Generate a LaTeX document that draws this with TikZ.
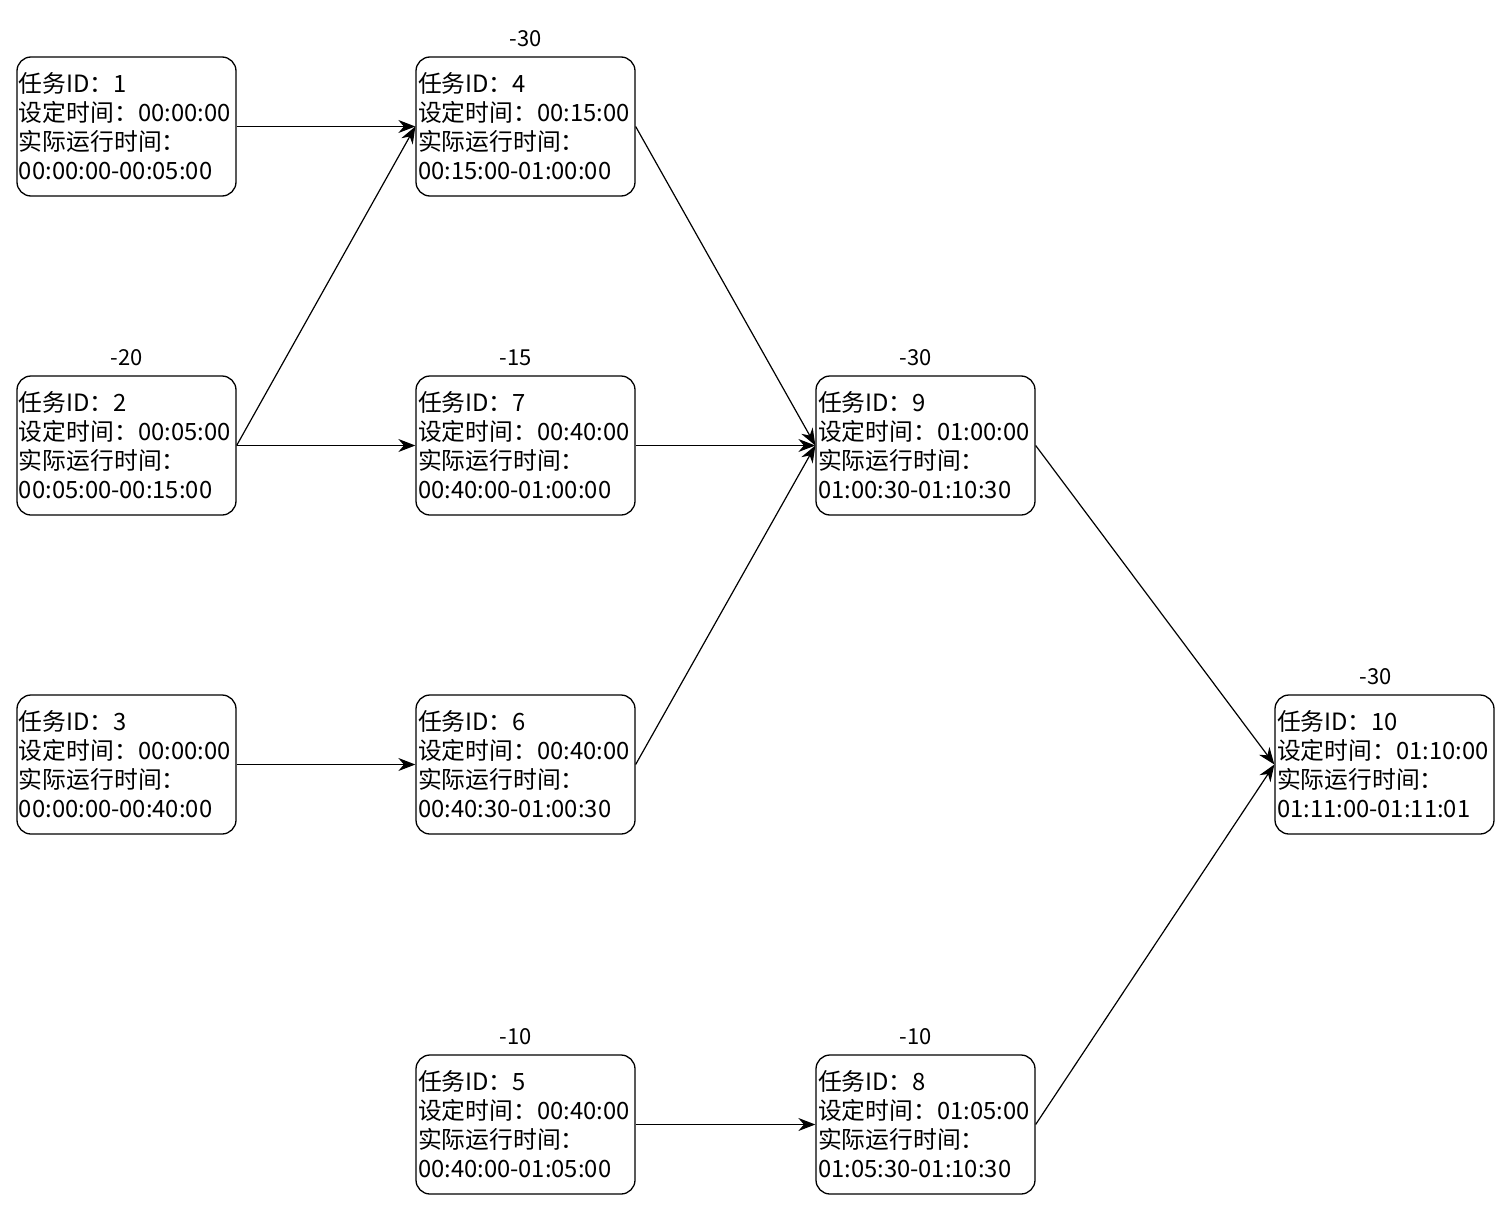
\documentclass[tikz,border=0pt]{standalone}
\usepackage{fontspec}
\setmainfont{Noto Sans CJK SC}
\usetikzlibrary{arrows.meta}
\begin{document}
\begin{tikzpicture}[x=1pt, y=-1pt,
  task/.style={draw, rounded corners=14pt, line width=1.3pt, minimum width=219pt, minimum height=139pt,
    text width=215pt, align=left, inner sep=2pt, font=\fontsize{23.8}{29}\selectfont},
  delay/.style={font=\fontsize{22}{24}\selectfont},
  >={Stealth[length=17pt, width=13pt]}
]
  \useasboundingbox (0,0) rectangle (1512,1212);
  % tasks, placed by centre
  \node[task] (t1) at (126.5,126.5) {任务ID：1\\设定时间：00:00:00\\实际运行时间：\\00:00:00-00:05:00};
  \node[task] (t2) at (126.5,445.5) {任务ID：2\\设定时间：00:05:00\\实际运行时间：\\00:05:00-00:15:00};
  \node[task] (t3) at (126.5,764.5) {任务ID：3\\设定时间：00:00:00\\实际运行时间：\\00:00:00-00:40:00};
  \node[task] (t4) at (525.5,126.5) {任务ID：4\\设定时间：00:15:00\\实际运行时间：\\00:15:00-01:00:00};
  \node[task] (t7) at (525.5,445.5) {任务ID：7\\设定时间：00:40:00\\实际运行时间：\\00:40:00-01:00:00};
  \node[task] (t6) at (525.5,764.5) {任务ID：6\\设定时间：00:40:00\\实际运行时间：\\00:40:30-01:00:30};
  \node[task] (t5) at (525.5,1124.5) {任务ID：5\\设定时间：00:40:00\\实际运行时间：\\00:40:00-01:05:00};
  \node[task] (t9) at (925.5,445.5) {任务ID：9\\设定时间：01:00:00\\实际运行时间：\\01:00:30-01:10:30};
  \node[task] (t8) at (925.5,1124.5) {任务ID：8\\设定时间：01:05:00\\实际运行时间：\\01:05:30-01:10:30};
  \node[task] (t10) at (1384.5,764.5) {任务ID：10\\设定时间：01:10:00\\实际运行时间：\\01:11:00-01:11:01};

  % delays above the boxes
  \node[delay, above=6pt] (d4) at (t4.north) {-30};
  \node[delay, above=6pt] (d2) at (t2.north) {-20};
  \node[delay, above=6pt, xshift=-10pt] (d7) at (t7.north) {-15};
  \node[delay, above=6pt, xshift=-10pt] (d9) at (t9.north) {-30};
  \node[delay, above=6pt, xshift=-9pt] (d10) at (t10.north) {-30};
  \node[delay, above=6pt, xshift=-10pt] (d5) at (t5.north) {-10};
  \node[delay, above=6pt, xshift=-10pt] (d8) at (t8.north) {-10};

  % dependencies
  \draw[->, line width=1.2pt] (t1.east) -- (t4.west);
  \draw[->, line width=1.2pt] (t2.east) -- (t4.west);
  \draw[->, line width=1.2pt] (t2.east) -- (t7.west);
  \draw[->, line width=1.2pt] (t3.east) -- (t6.west);
  \draw[->, line width=1.2pt] (t4.east) -- (t9.west);
  \draw[->, line width=1.2pt] (t7.east) -- (t9.west);
  \draw[->, line width=1.2pt] (t6.east) -- (t9.west);
  \draw[->, line width=1.2pt] (t5.east) -- (t8.west);
  \draw[->, line width=1.2pt] (t9.east) -- (t10.west);
  \draw[->, line width=1.2pt] (t8.east) -- (t10.west);
\end{tikzpicture}
\end{document}
